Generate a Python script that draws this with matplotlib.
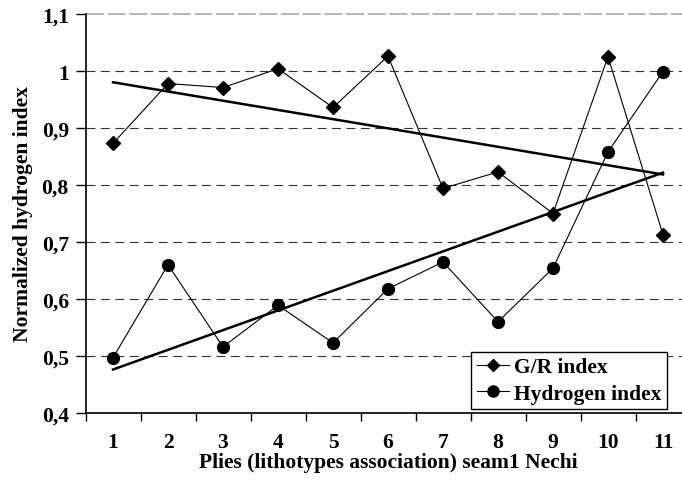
import numpy as np
import matplotlib
matplotlib.use("Agg")
import matplotlib.pyplot as plt
from matplotlib.ticker import FuncFormatter

plt.rcParams['font.family'] = ['Liberation Serif', 'DejaVu Serif']
plt.rcParams['font.weight'] = 'bold'

plies = np.arange(1, 12)
gr_index = [0.873, 0.978, 0.971, 1.004, 0.936, 1.026, 0.794, 0.823, 0.750, 1.025, 0.713]
hydrogen_index = [0.497, 0.660, 0.516, 0.589, 0.523, 0.618, 0.665, 0.560, 0.654, 0.858, 0.999]

fs = 15.5

fig = plt.figure(figsize=(6.82, 4.81), dpi=100)
ax = fig.add_axes([85.5 / 682, 1 - 414 / 481, 605 / 682, 399 / 481])

# grid lines
for y in [0.5, 0.6, 0.7, 0.8, 0.9, 1.0]:
    ax.axhline(y, color='#333333', lw=0.8, ls=(0, (8, 5)), zorder=1)
ax.axhline(1.1, color='#b0b0b0', lw=1.3, ls=(0, (10, 2)), zorder=1, clip_on=False)

ax.plot(plies, gr_index, color='black', lw=0.8, marker='D', ms=7.5,
        label='G/R index', zorder=3)
ax.plot(plies, hydrogen_index, color='black', lw=0.8, marker='o', ms=8.5,
        label='Hydrogen index', zorder=3)

# linear trends
for series in (gr_index, hydrogen_index):
    k, b = np.polyfit(plies, series, 1)
    ax.plot([1, 11], [k * 1 + b, k * 11 + b], color='black', lw=1.8, zorder=2)

ax.set_xlim(0.5, 11.5)
ax.set_ylim(0.4, 1.1)
ax.set_xticks(np.arange(0.5, 12, 1))
ax.set_xticklabels([])
ax.set_xticks(plies, minor=True)
ax.set_xticklabels([str(p) for p in plies], minor=True)
ax.tick_params(axis='x', which='major', direction='out', length=6, width=1)
ax.tick_params(axis='x', which='minor', length=0, pad=14, labelsize=fs)
ax.set_yticks(np.arange(0.4, 1.15, 0.1))
ax.yaxis.set_major_formatter(FuncFormatter(lambda v, p: ('%g' % round(v, 1)).replace('.', ',')))
ax.tick_params(axis='y', direction='out', length=7, width=1, labelsize=fs, pad=5)

for s in ('top', 'right'):
    ax.spines[s].set_visible(False)
for s in ('left', 'bottom'):
    ax.spines[s].set_linewidth(1.2)

ax.set_xlabel('Plies (lithotypes association) seam1 Nechi', fontsize=fs,
              fontweight='bold', labelpad=0)
ax.set_ylabel('Normalized hydrogen index', fontsize=fs, fontweight='bold', labelpad=6)

leg = ax.legend(loc='lower right', bbox_to_anchor=(667 / 682, 71 / 481),
                bbox_transform=fig.transFigure, fancybox=False, framealpha=1,
                edgecolor='black', fontsize=fs, handlelength=1.5,
                handletextpad=0.25, borderpad=0.25, labelspacing=0.3,
                borderaxespad=0)
leg.get_frame().set_linewidth(1)
leg.legend_handles[0].set_markersize(6)
leg.legend_handles[1].set_markersize(8)

fig.savefig('out.png', dpi=100)
